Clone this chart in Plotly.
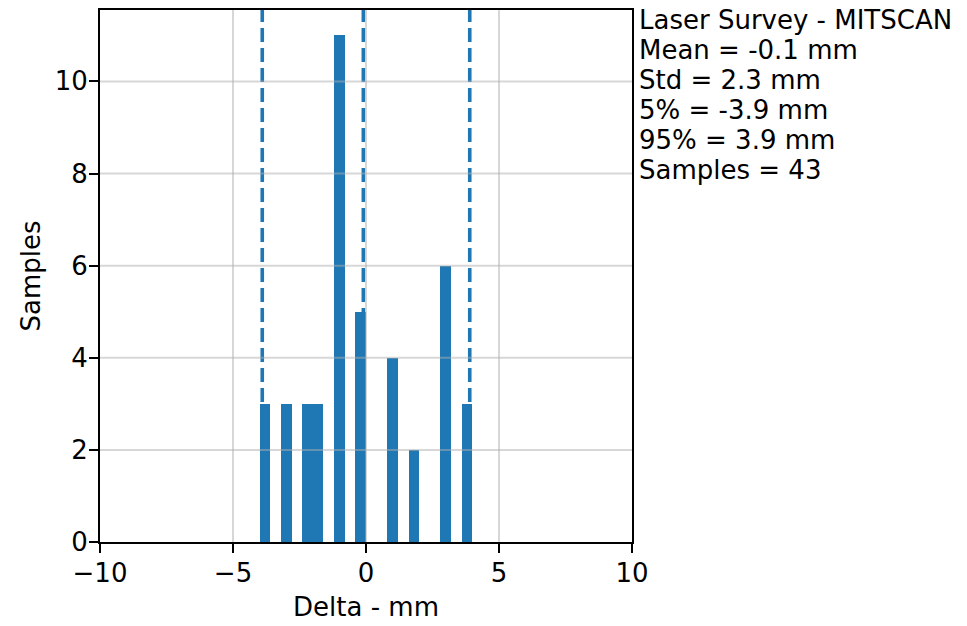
import plotly.graph_objects as go

# Histogram of survey deltas: left bin edges (mm) and counts per 0.4 mm bin
bin_left = [-4.0, -3.6, -3.2, -2.8, -2.4, -2.0, -1.6, -1.2, -0.8, -0.4,
            0.0, 0.4, 0.8, 1.2, 1.6, 2.0, 2.4, 2.8, 3.2, 3.6]
counts = [3, 0, 3, 0, 3, 3, 0, 11, 0, 5,
          0, 0, 4, 0, 2, 0, 0, 6, 0, 3]
bin_width = 0.4

# Summary statistics
title = "Laser Survey - MITSCAN"
mean_mm = -0.1
std_mm = 2.3
p5_mm = -3.9
p95_mm = 3.9
n_samples = 43

x_ticks = [-10, -5, 0, 5, 10]
y_ticks = [0, 2, 4, 6, 8, 10]
x_range = [-10, 10]
y_range = [0, 11.55]

BLUE = "#1f77b4"
FONT = "DejaVu Sans"
FS = 26

fig = go.Figure()
fig.add_trace(go.Bar(
    x=bin_left, y=counts, width=[bin_width] * len(bin_left), offset=0,
    marker=dict(color=BLUE, line=dict(width=0)),
    showlegend=False, hoverinfo="skip",
))

shapes = []
# mean and percentile markers, drawn behind the bars
for xv in [p5_mm, mean_mm, p95_mm]:
    shapes.append(dict(type="line", xref="x", yref="paper", x0=xv, x1=xv, y0=0, y1=1,
                       layer="below", line=dict(color=BLUE, width=3.6, dash="14px,6px")))
# grid drawn on top of the bars
grid_col = "rgba(176,176,176,0.5)"
for xv in x_ticks[1:-1]:
    shapes.append(dict(type="line", xref="x", yref="paper", x0=xv, x1=xv, y0=0, y1=1,
                       layer="above", line=dict(color=grid_col, width=2)))
for yv in y_ticks[1:]:
    shapes.append(dict(type="line", xref="paper", yref="y", x0=0, x1=1, y0=yv, y1=yv,
                       layer="above", line=dict(color=grid_col, width=2)))

lines = [
    title,
    f"Mean = {mean_mm} mm",
    f"Std = {std_mm} mm",
    f"5% = {p5_mm} mm",
    f"95% = {p95_mm} mm",
    f"Samples = {n_samples}",
]
plot_h = 626 - 10 - 84
annotations = []
for i, t in enumerate(lines):
    annotations.append(dict(
        text=t, xref="paper", yref="paper", x=1.012, y=1 - (i * 30 - 6) / plot_h,
        xanchor="left", yanchor="top", showarrow=False, align="left",
        font=dict(family=FONT, size=FS, color="black"), borderpad=0,
    ))

axis_common = dict(
    showline=True, linecolor="black", linewidth=2, mirror=True,
    ticks="outside", ticklen=9, tickwidth=2, tickcolor="black",
    showgrid=False, zeroline=False, automargin=False,
    tickfont=dict(family=FONT, size=FS, color="black"),
)

fig.update_layout(
    width=967, height=626,
    margin=dict(l=100, r=335, t=10, b=84),
    paper_bgcolor="white", plot_bgcolor="white",
    bargap=0,
    shapes=shapes, annotations=annotations,
    xaxis=dict(range=x_range, tickvals=x_ticks, **axis_common, ticklabelstandoff=-2,
               title=dict(text="Delta - mm", font=dict(family=FONT, size=FS, color="black"), standoff=11)),
    yaxis=dict(range=y_range, tickvals=y_ticks, **axis_common, ticklabelstandoff=-4,
               title=dict(text="Samples", font=dict(family=FONT, size=FS, color="black"), standoff=7)),
)

fig.write_html("out.html")
